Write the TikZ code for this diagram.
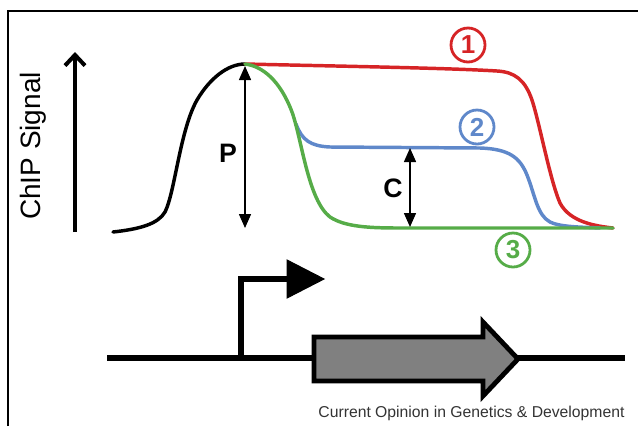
\documentclass[tikz,border=0pt]{standalone}
\usepackage{fontspec}
\setmainfont{Liberation Sans}
\usetikzlibrary{arrows.meta}

\definecolor{curvered}{RGB}{214,36,38}
\definecolor{curveblue}{RGB}{95,136,202}
\definecolor{curvegreen}{RGB}{86,172,72}
\definecolor{genegray}{RGB}{128,128,128}

\tikzset{every picture/.style={line width=0.75pt}}
\tikzset{
  signal/.style={line width=2.6pt, line cap=round},
  dbl/.style={line width=1.1pt, {Triangle[width=9pt,length=10.5pt]}-{Triangle[width=9pt,length=10.5pt]}},
  numring/.style={circle, draw=#1, text=#1, line width=2.1pt, minimum size=25.5pt, inner sep=0pt, font=\fontsize{19.5}{19.5}\selectfont\bfseries},
}

\begin{document}
\begin{tikzpicture}[x=0.75pt,y=0.75pt,yscale=-1,xscale=1]
\useasboundingbox (0,0) rectangle (638,426);
%Frame
\draw [line width=1.5pt]  (8,426) -- (8,11) -- (638,11) ;
%Axis arrow
\coordinate (axlow) at (75,232);
\coordinate (axtop) at (75,52);
\draw [line width=3pt, -{Straight Barb[length=8pt,width=15pt,line width=3pt]}]  (axlow) -- (axtop) ;

%Black rising curve
\coordinate (peak) at (245,64);
\draw [signal]  (113,232) .. controls (140,229) and (158,224) .. (165,212) .. controls (175,192) and (180,130) .. (197,100) .. controls (210,78) and (228,64) .. (peak) ;
%Red curve 1
\draw [signal, curvered]  (peak) .. controls (330,66) and (450,68) .. (497,71) .. controls (515,72) and (525,80) .. (532,100) .. controls (540,125) and (550,180) .. (560,203) .. controls (570,222) and (595,226) .. (613,228) ;
%Blue curve 2
\draw [signal, curveblue]  (296,124) .. controls (302,140) and (310,146) .. (330,147) -- (480,148) .. controls (510,149) and (520,158) .. (527,175) .. controls (535,195) and (537,215) .. (550,222) .. controls (560,227) and (580,227) .. (600,228) ;
%Green curve 3
\draw [signal, curvegreen]  (peak) .. controls (262,66) and (280,80) .. (292,112) .. controls (302,140) and (308,200) .. (330,217) .. controls (345,227) and (370,228) .. (400,228) -- (613,228) ;

%Double arrows
\coordinate (ptop) at (245,66);
\coordinate (pbot) at (245,228);
\coordinate (ctop) at (410,148);
\coordinate (cbot) at (410,227);
\draw [dbl]  (ptop) -- (pbot) ;
\draw [dbl]  (ctop) -- (cbot) ;

%Gene line
\coordinate (dnastart) at (107,358);
\coordinate (dnaend) at (625,358);
\draw [line width=5.2pt]  (dnastart) -- (dnaend) ;
%Promoter arrow
\coordinate (tss) at (241,358);
\draw [line width=4.6pt]  (tss) -- (241,279) -- (290,279) ;
\draw [fill=black]  (287,260) -- (324,279) -- (287,298) -- cycle ;
%Gene body
\draw [fill=genegray, line width=3.6pt, line join=miter]  (314,337) -- (483,337) -- (483,322) -- (518,359) -- (483,396) -- (483,381) -- (314,381) -- cycle ;

% Text Node
\draw (33,146) node [rotate=90][inner sep=0.75pt] (ylab) {\fontsize{21}{21}\selectfont ChIP Signal};
% Text Node
\draw (228,153) node [inner sep=0.75pt] (plab) {\fontsize{20}{20}\selectfont\bfseries P};
% Text Node
\draw (393,188) node [inner sep=0.75pt] (clab) {\fontsize{20}{20}\selectfont\bfseries C};
% Text Node
\draw (468,45) node [numring=curvered] (one) {1};
% Text Node
\draw (477,127) node [numring=curveblue] (two) {2};
% Text Node
\draw (513,250) node [numring=curvegreen] (three) {3};
% Text Node
\draw (626,413) node [anchor=east][inner sep=0.75pt] (cap) {\color{black!80}\fontsize{11.8}{11.8}\selectfont Current Opinion in Genetics \& Development};

\end{tikzpicture}
\end{document}
